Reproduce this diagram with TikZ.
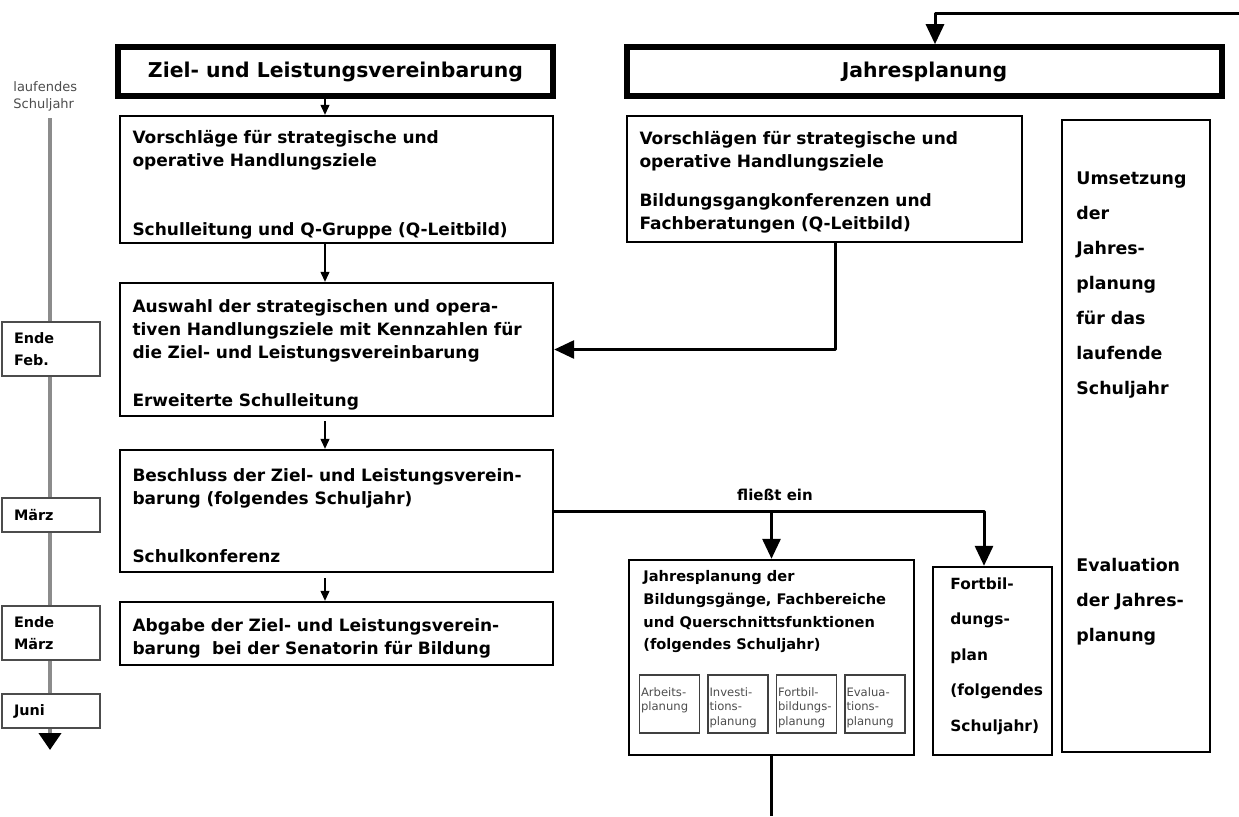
\documentclass[tikz,border=0pt]{standalone}
\usepackage{fontspec}
\setmainfont{DejaVu Sans}
\usetikzlibrary{arrows.meta,calc}

\tikzset{
  titlebox/.style={draw, line width=2.8pt, minimum height=24.5pt, inner sep=0pt,
    font=\bfseries\fontsize{10.2}{12}\selectfont},
  stepbox/.style={draw, line width=1.2pt, inner xsep=6.25pt, inner ysep=0pt,
    text width=204pt, text height=11.5pt, align=left,
    font=\bfseries\fontsize{8.5}{11.5}\selectfont},
  plainbox/.style={draw, line width=1.2pt},
  timebox/.style={draw=black!70, line width=1pt, fill=white, inner xsep=6pt,
    inner ysep=0pt, minimum width=49pt, text width=37pt, align=left,
    font=\bfseries\fontsize{7.2}{11}\selectfont},
  subbox/.style={draw=black!75, line width=0.9pt, minimum width=30pt,
    minimum height=29pt, inner sep=0pt},
  subtext/.style={anchor=north west, inner sep=0pt, xshift=1pt, yshift=-6.5pt,
    align=left, text=black!70, font=\fontsize{5.8}{7.2}\selectfont},
  sidetext/.style={anchor=north west, inner sep=0pt, align=left,
    font=\bfseries\fontsize{8.7}{17.5}\selectfont},
  smalltext/.style={anchor=north west, inner sep=0pt, align=left,
    font=\bfseries\fontsize{7.3}{11.4}\selectfont},
  axis/.style={line width=2pt, black!45, -{Triangle[width=11pt,length=8.5pt,black]}},
  flowarrow/.style={-{Triangle[width=4.5pt,length=5pt]}, line width=0.6pt},
  feedarrow/.style={-{Triangle[width=9pt,length=10pt]}, line width=1.5pt, line join=round},
  feedline/.style={line width=1.5pt}
}

\begin{document}
\begin{tikzpicture}[x=0.5pt,y=-0.5pt]
\useasboundingbox (0,0) rectangle (1239,816);

% time axis on the left
\coordinate (axtop) at (50,118);
\coordinate (axend) at (50,750);
\draw[axis] (axtop) -- (axend);
\node[anchor=north west, inner sep=0pt, align=left, text=black!70,
  font=\fontsize{6.5}{8.5}\selectfont] (axlab) at (13,81) {laufendes\\Schuljahr};
\node[timebox, minimum height=27pt] (tfeb) at (51,349) {Ende\\Feb.};
\node[timebox, minimum height=17pt] (tmar) at (51,515) {März};
\node[timebox, minimum height=27pt] (tema) at (51,633) {Ende\\März};
\node[timebox, minimum height=17pt] (tjun) at (51,711) {Juni};

% Ziel- und Leistungsvereinbarung
\node[titlebox, minimum width=217.5pt] (zlv) at (335.5,71.5) {Ziel- und Leistungsvereinbarung};
\node[stepbox, minimum height=63.5pt] (a1) at (336.5,179.5)
  {Vorschläge für strategische und\\operative Handlungsziele\\[23pt]Schulleitung und Q-Gruppe (Q-Leitbild)};
\node[stepbox, minimum height=66.5pt] (a2) at (336.5,349.5)
  {Auswahl der strategischen und opera-\\tiven Handlungsziele mit Kennzahlen für\\die Ziel- und Leistungsvereinbarung\\[12.5pt]Erweiterte Schulleitung};
\node[stepbox, minimum height=61pt] (a3) at (336.5,511)
  {Beschluss der Ziel- und Leistungsverein-\\barung (folgendes Schuljahr)\\[17.5pt]Schulkonferenz};
\node[stepbox, minimum height=31.5pt] (a4) at (336.5,633.5)
  {Abgabe der Ziel- und Leistungsverein-\\barung~ bei der Senatorin für Bildung};

\coordinate (colA) at (325,0);
\draw[flowarrow] (zlv.south -| colA) -- (a1.north -| colA);
\draw[flowarrow] (a1.south -| colA) -- (a2.north -| colA);
\draw[flowarrow, shorten <=2pt] (a2.south -| colA) -- (a3.north -| colA);
\draw[flowarrow, shorten <=2.5pt] (a3.south -| colA) -- (a4.north -| colA);

% Jahresplanung
\node[titlebox, minimum width=297.5pt] (jp) at (924.5,71.5) {Jahresplanung};
\node[stepbox, text width=185pt, text height=10pt, minimum height=63pt] (b1) at (824.5,179)
  {Vorschlägen für strategische und\\operative Handlungsziele\\[8pt]Bildungsgangkonferenzen und\\Fachberatungen (Q-Leitbild)};

\node[plainbox, minimum width=74pt, minimum height=316pt] (um) at (1136,436) {};
\node[sidetext] (umtop) at (1076,171)
  {Umsetzung\\der\\Jahres-\\planung\\für das\\laufende\\Schuljahr};
\node[sidetext] (umbot) at (1076,558) {Evaluation\\der Jahres-\\planung};

% Jahresplanung der Bildungsgaenge
\node[plainbox, minimum width=142.5pt, minimum height=97.5pt] (jpb) at (771.5,657.5) {};
\node[smalltext] (jpbtxt) at (643,570)
  {Jahresplanung der\\Bildungsgänge, Fachbereiche\\und Querschnittsfunktionen\\(folgendes Schuljahr)};
\foreach \cx/\nm/\txt in {669.5/arb/{Arbeits-\\planung}, 738/inv/{Investi-\\tions-\\planung},
    806.5/fort/{Fortbil-\\bildungs-\\planung}, 875/eval/{Evalua-\\tions-\\planung}}
  \node[subbox, label={[subtext]north west:{\txt}}] (\nm) at (\cx,704) {};

% Fortbildungsplan
\node[plainbox, minimum width=59.5pt, minimum height=94pt] (fbp) at (992.5,661) {};
\node[sidetext, font=\bfseries\fontsize{7.7}{17.75}\selectfont] (fbptxt) at (950,577)
  {Fortbil-\\dungs-\\plan\\(folgendes\\Schuljahr)};

% connectors
\coordinate (fbin) at (1239,13);
\coordinate (fbturn) at (935,13);
\draw[feedarrow] (fbin) -- (fbturn) -- (fbturn |- jp.north);

\coordinate (bdown) at (835,0);
\draw[feedarrow] (b1.south -| bdown) |- (a2.east);

\coordinate (fbx) at (984,0);
\draw[feedarrow] (a3.east) -| (fbx |- fbp.north);
\draw[feedarrow] (a3.east -| jpb.north) -- (jpb.north);
\node[font=\bfseries\fontsize{7.5}{9}\selectfont] (flabel) at (775,495) {fließt ein};

\coordinate (cout) at (773,816);
\draw[feedline] (jpb.south) -- (jpb.south |- cout);
\end{tikzpicture}
\end{document}
